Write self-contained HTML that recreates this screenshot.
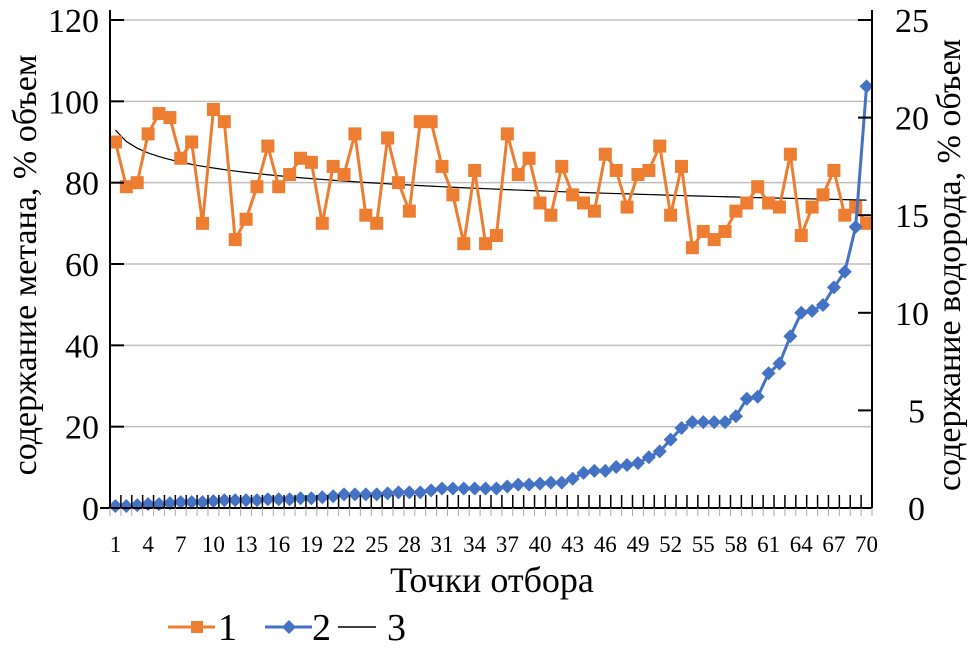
<!DOCTYPE html>
<html><head><meta charset="utf-8"><style>
body{margin:0;background:#fff;width:974px;height:652px;overflow:hidden}
text{font-family:"Liberation Serif",serif;fill:#000}
</style></head><body>
<svg id="chart" width="974" height="652" viewBox="0 0 974 652" xmlns="http://www.w3.org/2000/svg">
<g id="grid"></g>
<g id="trend"></g>
<g id="s1"></g>
<g id="s2"></g>
<g id="axes"></g>
<text x="492" y="592" font-size="36" text-anchor="middle">Точки отбора</text>
<text transform="translate(36,265) rotate(-90)" font-size="34" text-anchor="middle">содержание метана, % объем</text>
<text transform="translate(960,265) rotate(-90)" font-size="34" text-anchor="middle">содержание водорода, % объем</text>
<g>
<g><line x1="168" y1="627" x2="215" y2="627" stroke="#ED7D31" stroke-width="3"/><rect x="191" y="621" width="12" height="12" fill="#ED7D31"/><text x="218" y="640" font-size="38">1</text></g>
<g><line x1="265" y1="627" x2="312" y2="627" stroke="#4472C4" stroke-width="3"/><path d="M289 620 L296 627 L289 634 L282 627Z" fill="#4472C4"/><text x="312" y="640" font-size="38">2</text></g>
<g><line x1="338" y1="627" x2="376" y2="627" stroke="#000" stroke-width="1.5"/><text x="387" y="640" font-size="38">3</text></g>
</g>
</svg>
<script>
const methane=[90,79,80,92,97,96,86,90,70,98,95,66,71,79,89,79,82,86,85,70,84,82,92,72,70,91,80,73,95,95,84,77,65,83,65,67,92,82,86,75,72,84,77,75,73,87,83,74,82,83,89,72,84,64,68,66,68,73,75,79,75,74,87,67,74,77,83,72,74,70];
const hydrogen=[0.1,0.1,0.15,0.2,0.2,0.25,0.3,0.3,0.3,0.35,0.4,0.4,0.4,0.4,0.45,0.45,0.45,0.5,0.5,0.55,0.6,0.7,0.7,0.7,0.7,0.75,0.8,0.8,0.8,0.9,1.0,1.0,1.0,1.0,1.0,1.0,1.1,1.2,1.2,1.25,1.3,1.3,1.5,1.8,1.9,1.9,2.1,2.2,2.3,2.6,2.9,3.5,4.1,4.4,4.4,4.4,4.4,4.7,5.6,5.7,6.9,7.4,8.8,10,10.1,10.4,11.3,12.1,14.4,21.6];
const leftTicks=[0,20,40,60,80,100,120];
const rightTicks=[0,5,10,15,20,25];
const NS="http://www.w3.org/2000/svg";
const X0=110,X1=872,Y0=508,Y1=20;
const n=methane.length;
const step=(X1-X0)/n;
const xs=i=>X0+step*(i+0.5);
const yL=v=>Y0-(v/120)*(Y0-Y1);
const yR=v=>Y0-(v/25)*(Y0-Y1);
function mk(tag,attrs,parent){const e=document.createElementNS(NS,tag);for(const k in attrs)e.setAttribute(k,attrs[k]);parent.appendChild(e);return e;}
const grid=document.getElementById('grid'),axes=document.getElementById('axes');
leftTicks.forEach(v=>{
 if(v>0){const g=mk('line',{x1:X0,x2:X1,y1:yL(v),y2:yL(v),stroke:'#bfbfbf','stroke-width':1.5},grid);
 
 }
 mk('line',{x1:X0,x2:X0+14,y1:yL(v),y2:yL(v),stroke:'#000','stroke-width':2},axes);
 const t=mk('text',{x:99,y:yL(v)+12,'font-size':34,'text-anchor':'end'},axes);t.textContent=v;
 
 
});
rightTicks.forEach(v=>{
 mk('line',{x1:X1-14,x2:X1,y1:yR(v),y2:yR(v),stroke:'#000','stroke-width':2},axes);
 const t=mk('text',{x:v<10?908:895,y:yR(v)+12,'font-size':34},axes);t.textContent=v;
 
 
});
mk('line',{x1:X0,x2:X0,y1:Y1-10,y2:Y0,stroke:'#000','stroke-width':2},axes);
mk('line',{x1:X1,x2:X1,y1:Y1-10,y2:Y0,stroke:'#000','stroke-width':2},axes);
mk('line',{x1:X0-10,x2:X1,y1:Y0,y2:Y0,stroke:'#000','stroke-width':2},axes);
for(let i=0;i<=n;i++){const x=X0+step*i;
 mk('line',{x1:x,x2:x,y1:Y0-13,y2:Y0,stroke:'#000','stroke-width':1.5},axes);
 mk('line',{x1:x,x2:x,y1:Y0,y2:Y0+8,stroke:'#aaa','stroke-width':1},axes);}
for(let i=0;i<n;i+=3){const t=mk('text',{x:xs(i),y:552,'font-size':23,'text-anchor':'middle'},axes);t.textContent=i+1;
 
 }
let sx=0,sy=0,sxx=0,sxy=0;methane.forEach((v,i)=>{const l=Math.log(i+1);sx+=l;sy+=v;sxx+=l*l;sxy+=l*v;});
const b=(n*sxy-sx*sy)/(n*sxx-sx*sx),a=(sy-b*sx)/n;
let tp=[];for(let i=0;i<n;i++)tp.push(xs(i)+','+yL(a+b*Math.log(i+1)));
mk('polyline',{points:tp.join(' '),fill:'none',stroke:'#000','stroke-width':1.2},document.getElementById('trend'));
const s1=document.getElementById('s1'),s2=document.getElementById('s2');
mk('polyline',{points:methane.map((v,i)=>xs(i)+','+yL(v)).join(' '),fill:'none',stroke:'#ED7D31','stroke-width':3},s1);
methane.forEach((v,i)=>{const r=mk('rect',{x:xs(i)-6.5,y:yL(v)-6.5,width:13,height:13,fill:'#ED7D31'},s1);
 
 });
mk('polyline',{points:hydrogen.map((v,i)=>xs(i)+','+yR(v)).join(' '),fill:'none',stroke:'#4472C4','stroke-width':3},s2);
hydrogen.forEach((v,i)=>{const x=xs(i),y=yR(v);const p=mk('path',{d:`M${x} ${y-7}L${x+7} ${y}L${x} ${y+7}L${x-7} ${y}Z`,fill:'#4472C4'},s2);
 
 });
</script>
</body></html>
